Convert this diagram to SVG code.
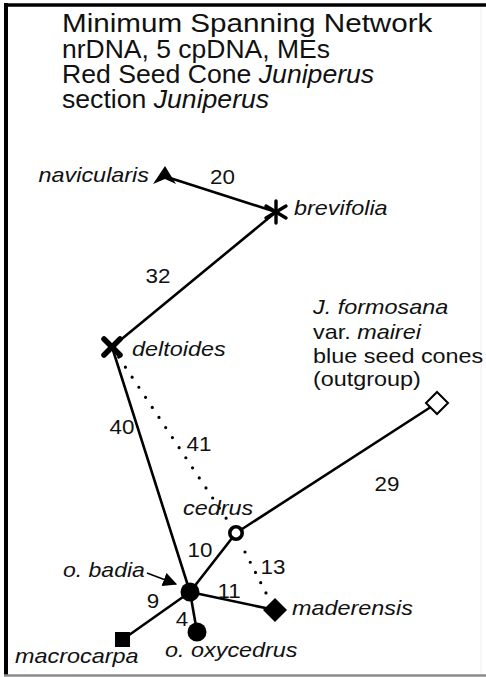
<svg xmlns="http://www.w3.org/2000/svg" width="486" height="677" viewBox="0 0 486 677">
<style>
text{font-family:"Liberation Sans",Arial,sans-serif;fill:#111}
.t1{font-size:25px}
.t2{font-size:25px}
.lb{font-size:20px;font-style:italic}
.up{font-size:20px}
.n{font-size:20px;text-anchor:middle}
.e{stroke:#000;stroke-width:2.6;fill:none;stroke-linecap:round}
.d{stroke:#000;stroke-width:3.2;fill:none;stroke-linecap:round}
.i{font-style:italic}
</style>
<defs>
<marker id="ah2" viewBox="0 0 12 12" refX="11" refY="6" markerWidth="14" markerHeight="14" orient="auto" markerUnits="userSpaceOnUse">
<path d="M0,0 L12,6 L0,12 Z" fill="#000"/>
</marker>
</defs>
<rect width="486" height="677" fill="#fff"/>
<g id="frame">
<line x1="4" y1="5" x2="486" y2="5" stroke="#000" stroke-width="3.5"/>
<line x1="6" y1="3" x2="6" y2="675" stroke="#000" stroke-width="4"/>
<line x1="4" y1="675.5" x2="486" y2="675.5" stroke="#8a8a8a" stroke-width="2.5"/>
<line x1="481" y1="7" x2="481" y2="674" stroke="#eee" stroke-width="1"/>
</g>
<g id="title">
<text class="t1" transform="translate(62 32) scale(1.185 1)">Minimum Spanning Network</text>
<text class="t2" transform="translate(62 58) scale(1.06 1)">nrDNA, 5 cpDNA, MEs</text>
<text class="t2" transform="translate(62 83) scale(1.065 1)">Red Seed Cone <tspan class="i">Juniperus</tspan></text>
<text class="t2" transform="translate(62 108) scale(1.065 1)">section <tspan class="i">Juniperus</tspan></text>
</g>
<g id="connectors">
<line class="e" x1="170" y1="178" x2="276" y2="212"/>
<line class="e" x1="276" y1="212" x2="112" y2="347"/>
<line class="e" x1="112" y1="347" x2="190" y2="592"/>
<line class="e" x1="190" y1="592" x2="236" y2="533"/>
<line class="e" x1="236" y1="533" x2="437" y2="403"/>
<line class="e" x1="190" y1="592" x2="275" y2="610"/>
<line class="e" x1="190" y1="592" x2="197" y2="632"/>
<line class="e" x1="190" y1="592" x2="122" y2="640"/>
<path class="d" d="M112,347 L236,533" stroke-dasharray="0 12.1"/>
<path class="d" d="M245,552 L266,593" stroke-dasharray="0 11.5"/>
<line x1="147" y1="573" x2="176" y2="584" stroke="#000" stroke-width="1.6" marker-end="url(#ah2)"/>
</g>
<g id="navicularis">
<path d="M165,166 L176,184 L165,179 L153,184 Z" fill="#000"/>
<text class="lb" text-anchor="end" transform="translate(149 182) scale(1.17 1)">navicularis</text>
</g>
<g id="brevifolia">
<g stroke="#000" stroke-width="3.4" stroke-linecap="round">
<line x1="276" y1="201" x2="276" y2="223"/>
<line x1="266" y1="206" x2="286" y2="218"/>
<line x1="266" y1="218" x2="286" y2="206"/>
</g>
<text class="lb" transform="translate(294 215) scale(1.17 1)">brevifolia</text>
</g>
<g id="deltoides">
<g stroke="#000" stroke-width="5.5" stroke-linecap="round">
<line x1="104" y1="339" x2="120" y2="355"/>
<line x1="104" y1="355" x2="120" y2="339"/>
</g>
<text class="lb" transform="translate(132 356) scale(1.17 1)">deltoides</text>
</g>
<g id="outgroup">
<path d="M437,392 L448,403 L437,414 L426,403 Z" fill="#fff" stroke="#000" stroke-width="2"/>
<text class="lb" transform="translate(313 314) scale(1.17 1)">J. formosana</text>
<text class="up" transform="translate(313 339) scale(1.17 1)">var. <tspan class="i">mairei</tspan></text>
<text class="up" transform="translate(313 363) scale(1.17 1)">blue seed cones</text>
<text class="up" transform="translate(313 386) scale(1.17 1)">(outgroup)</text>
</g>
<g id="cedrus">
<circle cx="236" cy="533" r="6.2" fill="#fff" stroke="#000" stroke-width="3.6"/>
<text class="lb" transform="translate(183 515) scale(1.17 1)">cedrus</text>
</g>
<g id="o-badia">
<circle cx="190" cy="592" r="9.5" fill="#000"/>
<text class="lb" transform="translate(63 577) scale(1.15 1)">o. badia</text>
</g>
<g id="maderensis">
<path d="M275,598 L287,610 L275,622 L263,610 Z" fill="#000"/>
<text class="lb" transform="translate(292 615) scale(1.17 1)">maderensis</text>
</g>
<g id="o-oxycedrus">
<circle cx="197" cy="632" r="9.5" fill="#000"/>
<text class="lb" transform="translate(165 657) scale(1.17 1)">o. oxycedrus</text>
</g>
<g id="macrocarpa">
<rect x="115" y="632" width="15" height="15" fill="#000"/>
<text class="lb" transform="translate(15 663) scale(1.17 1)">macrocarpa</text>
</g>
<g id="edge-labels">
<text class="n" transform="translate(222.5 184) scale(1.12 1)">20</text>
<text class="n" transform="translate(158 283) scale(1.12 1)">32</text>
<text class="n" transform="translate(122 434) scale(1.12 1)">40</text>
<text class="n" transform="translate(199 451) scale(1.12 1)">41</text>
<text class="n" transform="translate(387 491) scale(1.12 1)">29</text>
<text class="n" transform="translate(200 557) scale(1.12 1)">10</text>
<text class="n" transform="translate(273 574) scale(1.12 1)">13</text>
<text class="n" transform="translate(229 598) scale(1.12 1)">11</text>
<text class="n" transform="translate(182 626) scale(1.12 1)">4</text>
<text class="n" transform="translate(153 608) scale(1.12 1)">9</text>
</g>
</svg>
